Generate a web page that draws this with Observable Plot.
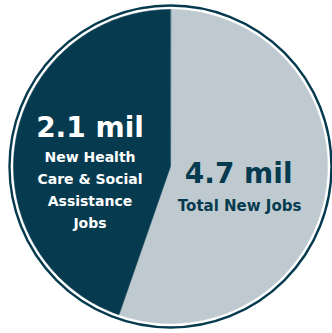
<!DOCTYPE html>
<html><head><meta charset="utf-8">
<script src="https://cdn.jsdelivr.net/npm/d3@7"></script>
<script src="https://cdn.jsdelivr.net/npm/@observablehq/plot@0.6"></script>
<style>html,body{margin:0;padding:0;background:#fff;} svg{display:block}</style>
</head><body><div id="chart"></div>
<script>
// ---- data ----
const categories = ["Other New Jobs", "New Health Care & Social Assistance Jobs"];
const values = [2.6, 2.1]; // millions (total 4.7)
const bigLabels = ["4.7 mil", "2.1 mil"];
const smallLabels = ["Total New Jobs", "New Health\nCare & Social\nAssistance\nJobs"];
const sliceColors = ["#bfcad0", "#063b4f"];
const textColors = ["#063b4f", "#ffffff"];

// ---- layout ----
const W = 332, H = 333, cx = 170, cy = 166, R = 157, ringR = 161;
const FONT = "'DejaVu Sans', sans-serif";

const arcs = d3.pie().sort(null).value(d => d.value)(
  values.map((v, i) => ({category: categories[i], value: v, i}))
);

function slicePoints(a) {
  const pts = [{x: 0, y: 0}];
  const n = 180;
  for (let k = 0; k <= n; k++) {
    const t = a.startAngle + (a.endAngle - a.startAngle) * k / n;
    pts.push({x: Math.sin(t), y: Math.cos(t)});
  }
  return pts;
}

const labelFrac = [0.44, 0.52];
const labels = arcs.map(a => {
  const m = (a.startAngle + a.endAngle) / 2;
  const i = a.data.i;
  return {i, x: labelFrac[i] * Math.sin(m), y: labelFrac[i] * Math.cos(m),
          big: bigLabels[i], small: smallLabels[i], color: textColors[i]};
});
const lightLab = labels.filter(d => d.i === 0);
const darkLab = labels.filter(d => d.i === 1);

const chart = Plot.plot({
  width: W, height: H,
  margin: 0,
  x: {domain: [-1, 1], range: [cx - R, cx + R], axis: null},
  y: {domain: [-1, 1], range: [cy + R, cy - R], axis: null},
  style: {fontFamily: FONT, background: "#fff"},
  marks: [
    ...arcs.map(a => Plot.line(slicePoints(a), {
      x: "x", y: "y", curve: "linear-closed",
      fill: sliceColors[a.data.i], stroke: sliceColors[a.data.i], strokeWidth: 0.5
    })),
    Plot.dot([{x: 0, y: 0}], {x: "x", y: "y", r: ringR, fill: "none", stroke: "#063b4f", strokeWidth: 2.4}),
    // light slice labels
    Plot.text(lightLab, {x: "x", y: "y", text: "big", fill: "color", fontSize: 28, fontWeight: "bold",
      fontFamily: FONT, lineAnchor: "bottom", dy: 5.5, dx: 0}),
    Plot.text(lightLab, {x: "x", y: "y", text: "small", fill: "color", fontSize: 15, fontWeight: "bold",
      fontFamily: FONT, lineAnchor: "bottom", dy: 33.5, dx: 1}),
    // dark slice labels
    Plot.text(darkLab, {x: "x", y: "y", text: "big", fill: "color", fontSize: 28, fontWeight: "bold",
      fontFamily: FONT, lineAnchor: "bottom", dy: -16}),
    Plot.text(darkLab, {x: "x", y: "y", text: "small", fill: "color", fontSize: 14, fontWeight: "bold",
      fontFamily: FONT, lineAnchor: "bottom", lineHeight: 1.55, dy: 74.6})
  ]
});
document.getElementById("chart").appendChild(chart);
</script>
</body></html>
